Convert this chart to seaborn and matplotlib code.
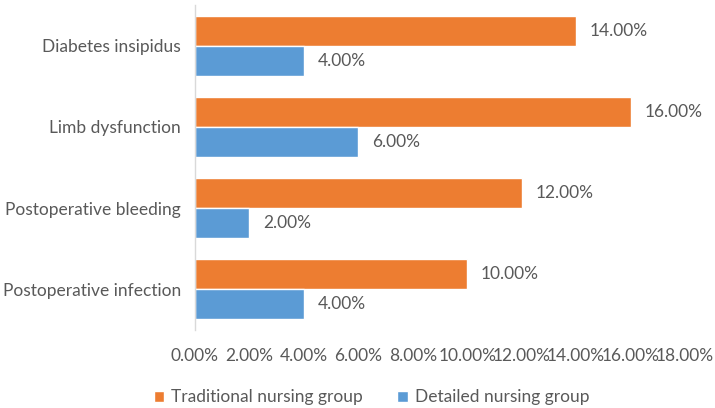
import pandas as pd
import matplotlib
matplotlib.use("Agg")
import matplotlib.pyplot as plt
import seaborn as sns
from matplotlib.ticker import FuncFormatter

sns.set_theme(style="white")
plt.rcParams['font.family'] = ['Lato', 'DejaVu Sans']

# --- DATA ---
complications = ["Diabetes insipidus", "Limb dysfunction",
                 "Postoperative bleeding", "Postoperative infection"]
traditional = [14.0, 16.0, 12.0, 10.0]
detailed = [4.0, 6.0, 2.0, 4.0]
groups = ["Traditional nursing group", "Detailed nursing group"]

df = pd.DataFrame({
    "Complication": complications * 2,
    "Rate": traditional + detailed,
    "Group": [groups[0]] * 4 + [groups[1]] * 4,
})

text_color = "#595959"
palette = {groups[0]: "#ED7D31", groups[1]: "#5B9BD5"}
fs = 12.5

fig = plt.figure(figsize=(7.15, 4.08), dpi=100)
ax = fig.add_axes([195 / 715, 1 - 330 / 408, 490 / 715, 325 / 408])

sns.barplot(data=df, y="Complication", x="Rate", hue="Group", order=complications,
            hue_order=groups, palette=palette, width=0.74, orient="h",
            saturation=1, ax=ax, legend=True)

for container in ax.containers:
    ax.bar_label(container, labels=[f"{v:.2f}%" for v in container.datavalues],
                 padding=10, fontsize=fs, color=text_color)

ax.set_xlim(0, 18)
ax.set_xticks(range(0, 19, 2))
ax.xaxis.set_major_formatter(FuncFormatter(lambda v, p: f"{v:.2f}%"))
ax.set_xlabel("")
ax.set_ylabel("")
ax.tick_params(axis="both", colors=text_color, labelsize=fs, length=0)
ax.tick_params(axis="x", pad=13)
ax.tick_params(axis="y", pad=10)
for s in ["top", "right", "bottom"]:
    ax.spines[s].set_visible(False)
ax.spines["left"].set_color("#D9D9D9")
ax.spines["left"].set_linewidth(1)
ax.grid(False)

ax.legend(loc="upper center", bbox_to_anchor=(0.36, -0.145), ncol=2, frameon=False,
          fontsize=fs, labelcolor=text_color, handlelength=0.6, handleheight=0.6,
          columnspacing=2.0, handletextpad=0.4, borderpad=0.2)

fig.savefig("out.png", dpi=100)
